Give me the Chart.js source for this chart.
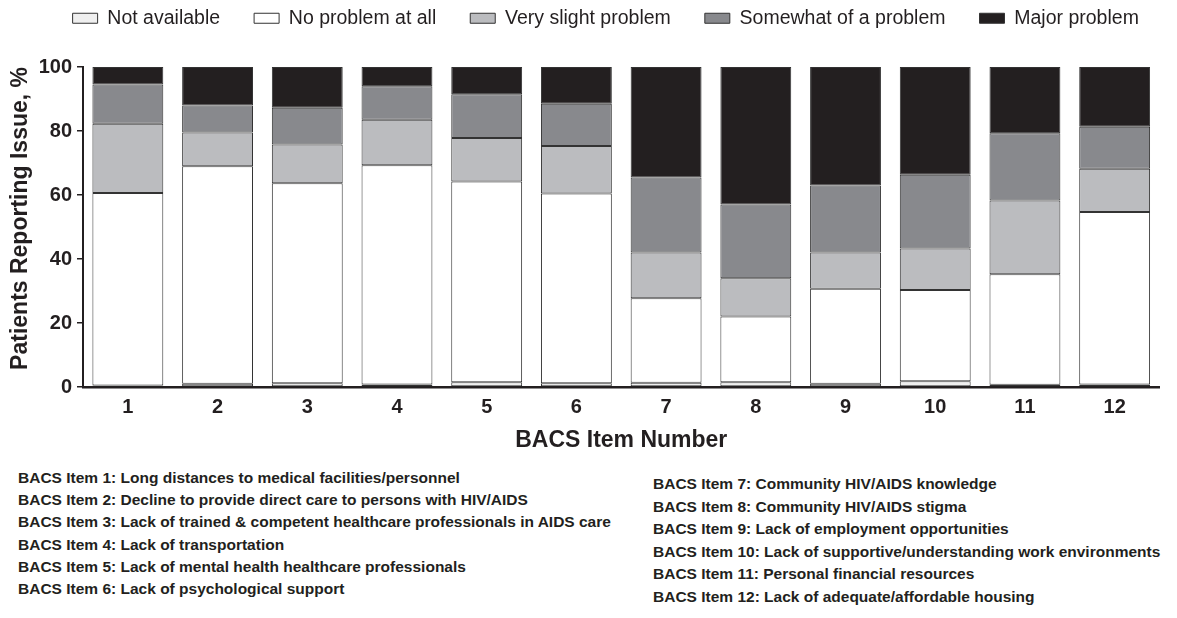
<!DOCTYPE html>
<html>
<head>
<meta charset="utf-8">
<script src="https://cdn.jsdelivr.net/npm/chart.js@4.4.1/dist/chart.umd.min.js"></script>
<style>
  body { margin: 0; background: #fff; }
  #wrap { position: relative; width: 1177px; height: 618px; }
  #chart { position: absolute; left: 0; top: 0; }
  .notes { position: absolute; font: bold 15.5px 'Liberation Sans', Arial, sans-serif; color: #231f20; white-space: nowrap; }
  #notesLeft { left: 18px; top: 467px; line-height: 22.2px; }
  #notesRight { left: 653px; top: 473px; line-height: 22.6px; }
</style>
</head>
<body>
<div id="wrap">
  <canvas id="chart" width="1177" height="462"></canvas>
  <div class="notes" id="notesLeft"></div>
  <div class="notes" id="notesRight"></div>
</div>
<script>
const items = ['1', '2', '3', '4', '5', '6', '7', '8', '9', '10', '11', '12'];

// % of patients per response, bottom to top of each bar
const notAvailable = [0.5, 1, 1.2, 0.8, 1.5, 1.2, 1.3, 1.5, 1, 1.8, 0.7, 0.8];
const noProblem = [60.1, 68, 62.5, 68.5, 62.7, 59.3, 26.4, 20.5, 29.7, 28.5, 34.5, 53.9];
const verySlight = [21.7, 10.5, 12.1, 14.2, 13.6, 14.8, 14.3, 12, 11.3, 13, 23.1, 13.5];
const somewhat = [12.2, 8.5, 11.5, 10.5, 13.7, 13.2, 23.5, 23, 21, 23, 21, 13.1];
const major = [5.5, 12, 12.7, 6, 8.5, 11.5, 34.5, 43, 37, 33.7, 20.7, 18.7];

const itemNotes = [
    'Long distances to medical facilities/personnel',
    'Decline to provide direct care to persons with HIV/AIDS',
    'Lack of trained & competent healthcare professionals in AIDS care',
    'Lack of transportation',
    'Lack of mental health healthcare professionals',
    'Lack of psychological support',
    'Community HIV/AIDS knowledge',
    'Community HIV/AIDS stigma',
    'Lack of employment opportunities',
    'Lack of supportive/understanding work environments',
    'Personal financial resources',
    'Lack of adequate/affordable housing',
];

const ink = '#231f20';
const font = "'Liberation Sans', Arial, sans-serif";

itemNotes.forEach((note, i) => {
    const line = document.createElement('div');
    line.textContent = 'BACS Item ' + (i + 1) + ': ' + note;
    document.getElementById(i < 6 ? 'notesLeft' : 'notesRight').appendChild(line);
});

// legend needs more room below it and sits a bit right of centre
const legendNudge = {
    id: 'legendNudge',
    beforeInit(chart) {
        const legend = chart.legend;
        if (!legend) return;
        const fit = legend.fit;
        legend.fit = function () {
            fit.call(this);
            this.height += 3.5;
        };
        const draw = legend.draw;
        legend.draw = function () {
            this.ctx.save();
            this.ctx.translate(26, -25.5);
            draw.apply(this, arguments);
            this.ctx.restore();
        };
    },
};

const bar = (label, data, color) => ({
    label,
    data,
    backgroundColor: color,
    borderColor: '#333333',
    borderWidth: 1,
    borderSkipped: false,
    barPercentage: 0.79,
    categoryPercentage: 1.0,
});

new Chart(document.getElementById('chart'), {
    type: 'bar',
    data: {
        labels: items,
        datasets: [
            bar('Not available', notAvailable, '#efefef'),
            bar('No problem at all', noProblem, '#ffffff'),
            bar('Very slight problem', verySlight, '#bbbcbf'),
            bar('Somewhat of a problem', somewhat, '#88898d'),
            bar('Major problem', major, ink),
        ],
    },
    options: {
        responsive: false,
        animation: false,
        devicePixelRatio: 1,
        layout: { padding: { left: 0, right: 17.5, top: 0, bottom: 0 } },
        plugins: {
            tooltip: { enabled: false },
            legend: {
                position: 'top',
                labels: {
                    color: ink,
                    font: { family: font, size: 19.5 },
                    boxWidth: 25,
                    boxHeight: 10,
                    padding: 34,
                },
            },
        },
        scales: {
            x: {
                stacked: true,
                grid: { display: false, drawTicks: false },
                border: { display: true, color: ink, width: 2.5 },
                ticks: { color: ink, font: { family: font, size: 20, weight: 'bold' }, padding: 8 },
                title: {
                    display: true,
                    text: 'BACS Item Number',
                    color: ink,
                    font: { family: font, size: 23, weight: 'bold' },
                    padding: { top: 8, bottom: 8 },
                },
                afterFit: (scale) => { scale.height = 75; },
            },
            y: {
                stacked: true,
                min: 0,
                max: 100,
                grid: { drawOnChartArea: false, tickLength: 6, color: ink, lineWidth: 1.5 },
                border: { display: true, color: ink, width: 2 },
                ticks: { stepSize: 20, color: ink, font: { family: font, size: 20, weight: 'bold' }, padding: 5 },
                title: {
                    display: true,
                    align: 'end',
                    text: 'Patients Reporting Issue, %',
                    color: ink,
                    font: { family: font, size: 23, weight: 'bold' },
                    padding: { top: 7, bottom: 7 },
                },
                afterFit: (scale) => { scale.width = 83; },
            },
        },
    },
    plugins: [legendNudge],
});
</script>
</body>
</html>
